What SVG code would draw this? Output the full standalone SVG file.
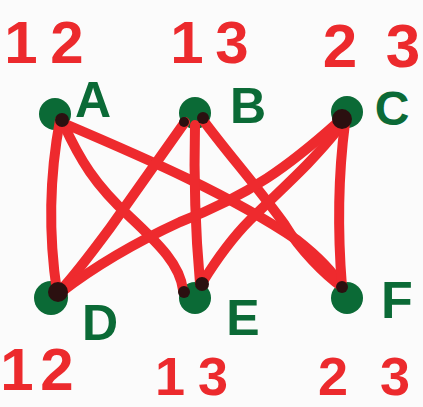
<svg xmlns="http://www.w3.org/2000/svg" width="423" height="407" viewBox="0 0 423 407">
<style>
.num{font-family:"Liberation Sans","DejaVu Sans",sans-serif;font-weight:bold;fill:#ec2a2d;text-anchor:middle}
.lab{font-family:"Liberation Sans","DejaVu Sans",sans-serif;font-weight:bold;fill:#0b6a36;text-anchor:middle}
.node{fill:#0b6a36}
.end{fill:#2b1010}
.edge{fill:none;stroke:#ee2a2e;stroke-width:10;stroke-linecap:round;stroke-linejoin:round}
</style>
<rect width="423" height="407" fill="#fbfbfb"/>
<text class="num" font-size="60" x="21 67" y="63">12</text>
<text class="num" font-size="60" x="187 232" y="63">13</text>
<text class="num" font-size="62" x="340 403" y="67">23</text>
<text class="num" font-size="60" x="17 57" y="390">12</text>
<text class="num" font-size="54" x="170 213" y="395">13</text>
<text class="num" font-size="54" x="333 395" y="395">23</text>
<g id="node-A"><circle class="node" cx="55" cy="114" r="16"/><text class="lab" font-size="50" x="93" y="117">A</text></g>
<g id="node-B"><circle class="node" cx="195" cy="113" r="16"/><text class="lab" font-size="50" x="248" y="123">B</text></g>
<g id="node-C"><circle class="node" cx="347" cy="112" r="16"/><text class="lab" font-size="48" x="392" y="125">C</text></g>
<g id="node-D"><circle class="node" cx="51" cy="298" r="17"/><text class="lab" font-size="50" x="100" y="340">D</text></g>
<g id="node-E"><circle class="node" cx="195" cy="298" r="16"/><text class="lab" font-size="50" x="243" y="335">E</text></g>
<g id="node-F"><circle class="node" cx="347" cy="298" r="16"/><text class="lab" font-size="52" x="397" y="318">F</text></g>
<g id="connectors">
<path class="edge" d="M60,120 Q44,205 57,292"/>
<path class="edge" d="M63,123 C80,160 95,185 130,217 C160,245 180,265 183,290"/>
<path class="edge" d="M63,123 C150,160 230,195 297,240 C320,258 335,275 342,287"/>
<path class="edge" d="M185,122 C165,150 130,200 110,228 C90,255 75,275 60,291"/>
<path class="edge" d="M195,125 Q193,205 200,283"/>
<path class="edge" d="M203,120 C225,150 260,190 285,225 C300,250 325,275 342,287"/>
<path class="edge" d="M337,123 C290,165 250,195 180,222 C130,245 90,270 60,293"/>
<path class="edge" d="M340,127 C310,165 280,190 250,220 C230,240 215,262 202,283"/>
<path class="edge" d="M345,123 Q335,200 342,287"/>
</g>
<g id="ends">
<circle class="end" cx="62" cy="120" r="7"/>
<circle class="end" cx="184" cy="122" r="5"/>
<circle class="end" cx="203" cy="118" r="6"/>
<circle class="end" cx="342" cy="119" r="10"/>
<circle class="end" cx="58" cy="292" r="10"/>
<circle class="end" cx="184" cy="292" r="6"/>
<circle class="end" cx="202" cy="284" r="7"/>
<circle class="end" cx="342" cy="287" r="6"/>
</g>
</svg>
